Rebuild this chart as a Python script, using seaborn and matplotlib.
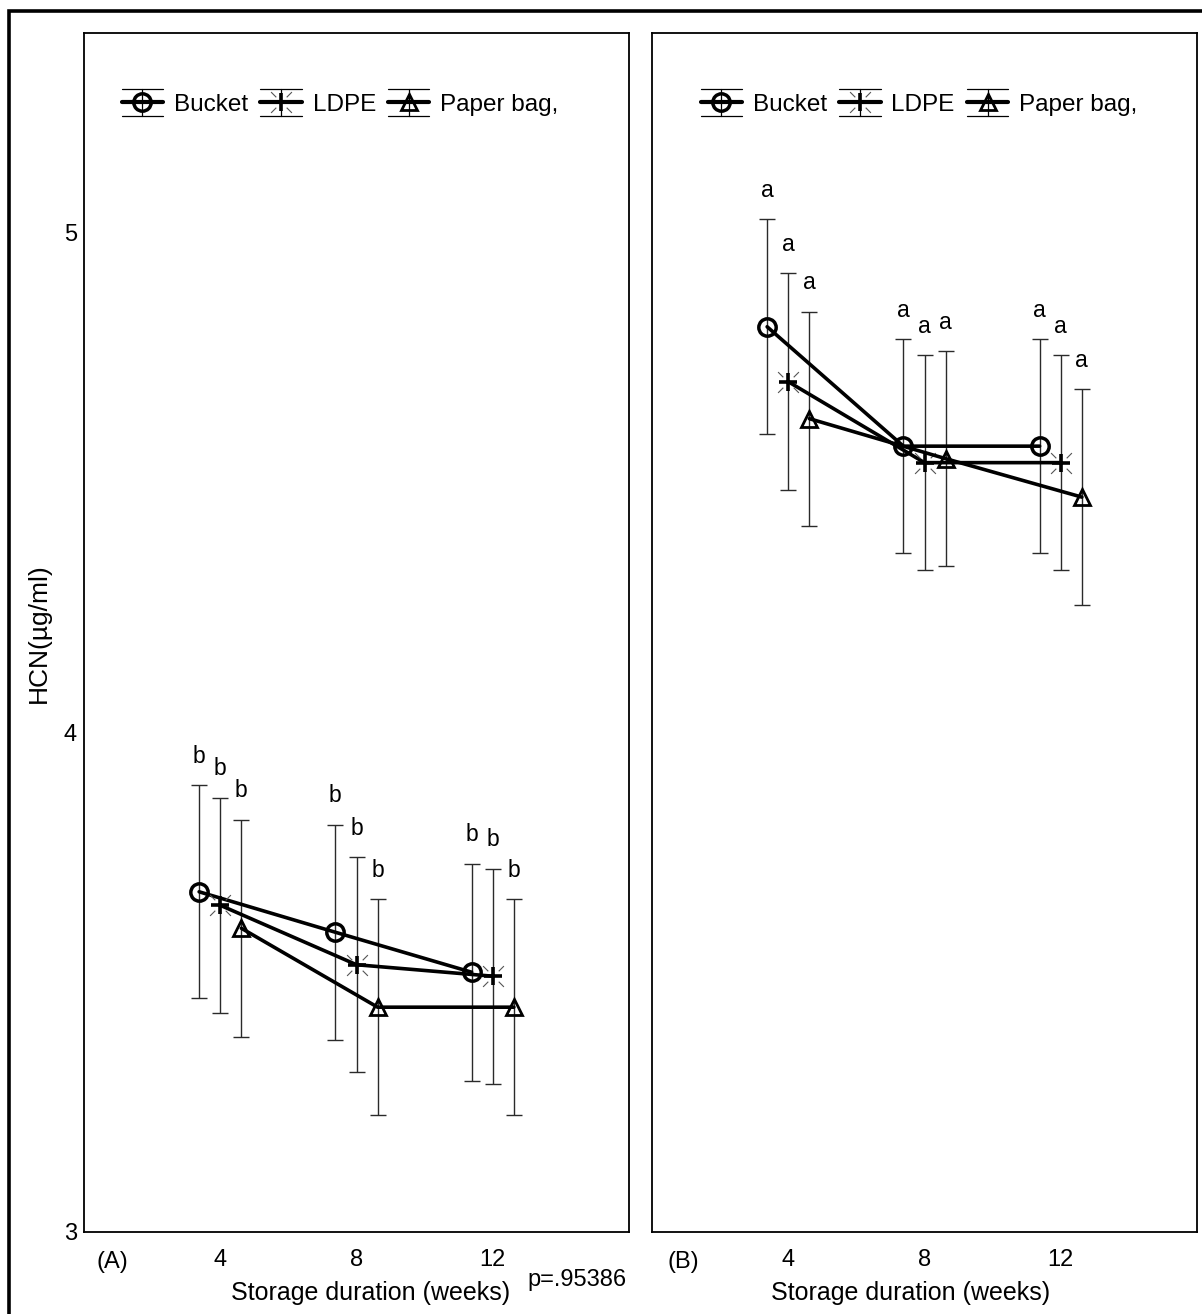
import numpy as np
import pandas as pd
import matplotlib
matplotlib.use("Agg")
import matplotlib.pyplot as plt
import matplotlib.patches as mpatches
import seaborn as sns
from matplotlib.path import Path
from matplotlib.lines import Line2D
from matplotlib.legend_handler import HandlerBase

# ---------------- data ----------------
weeks = [4, 8, 12]
x_ticks = [4, 8, 12]
y_ticks = [3, 4, 5]
series_names = ["Bucket", "LDPE", "Paper bag,"]

# Panel (A)
bucket_A = [3.681, 3.600, 3.520]
ldpe_A = [3.654, 3.535, 3.512]
paper_A = [3.608, 3.450, 3.450]
bucket_A_err = [0.213, 0.215, 0.217]
ldpe_A_err = [0.215, 0.215, 0.215]
paper_A_err = [0.217, 0.216, 0.216]
letters_A = ["b", "b", "b"]

# Panel (B)
bucket_B = [4.812, 4.573, 4.573]
ldpe_B = [4.702, 4.540, 4.540]
paper_B = [4.628, 4.548, 4.471]
bucket_B_err = [0.215, 0.214, 0.214]
ldpe_B_err = [0.217, 0.215, 0.215]
paper_B_err = [0.214, 0.215, 0.216]
letters_B = ["a", "a", "a"]

panel_tags = ["(A)", "(B)"]
p_text = "p=.95386"
xlabel = "Storage duration (weeks)"
ylabel = "HCN(\u00b5g/ml)"

# ---------------- style ----------------
sns.set_style("white")
plt.rcParams["font.family"] = ["Liberation Sans", "DejaVu Sans"]
for k in ["text.color", "axes.labelcolor", "xtick.color", "ytick.color",
          "axes.edgecolor"]:
    plt.rcParams[k] = "black"

W, H = 1202, 1314
fig = plt.figure(figsize=(W / 100, H / 100), dpi=100)

def fx(px):
    return px / W

def fy(py):
    return 1 - py / H

ax_pos = [
    [fx(84), fy(1232), fx(629) - fx(84), fy(33) - fy(1232)],
    [fx(652), fy(1232), fx(1197) - fx(652), fy(33) - fy(1232)],
]

# custom LDPE spokes marker
verts, codes = [], []
for sx, sy in [(1, 1), (1, -1), (-1, 1), (-1, -1)]:
    verts += [(sx * 0.5, sy * 0.5), (sx * 1.0, sy * 1.0)]
    codes += [Path.MOVETO, Path.LINETO]
spokes = Path(verts, codes)

markers = ["o", "+", "^"]
msizes = [12.5, 13, 12]
mews = [2.5, 2.6, 2.0]
offsets = [-0.62, 0.0, 0.62]
LW = 2.6
TXT = 17.0

panels = [
    ([bucket_A, ldpe_A, paper_A], [bucket_A_err, ldpe_A_err, paper_A_err], letters_A),
    ([bucket_B, ldpe_B, paper_B], [bucket_B_err, ldpe_B_err, paper_B_err], letters_B),
]


class ErrHandler(HandlerBase):
    def __init__(self, marker, ms, mew, spoke=False):
        super().__init__()
        self.marker = marker
        self.ms = ms
        self.mew = mew
        self.spoke = spoke

    def create_artists(self, legend, orig_handle, xdescent, ydescent,
                       width, height, fontsize, trans):
        x0, x1 = -xdescent, -xdescent + width
        cy = -ydescent + height / 2
        cx = (x0 + x1) / 2
        d = height * 0.78
        arts = []
        for yy in (cy - d, cy + d):
            arts.append(Line2D([x0, x1], [yy, yy], color="black", lw=0.9, transform=trans))
        arts.append(Line2D([cx, cx], [cy - d, cy + d], color="black", lw=0.9, transform=trans))
        arts.append(Line2D([x0, x1], [cy, cy], color="black", lw=LW + 0.4, transform=trans))
        arts.append(Line2D([cx], [cy], marker=self.marker, ms=self.ms, mfc="none",
                           mec="black", mew=self.mew, ls="none", transform=trans))
        if self.spoke:
            arts.append(Line2D([cx], [cy], marker=spokes, ms=self.ms + 2, mfc="none",
                               mec="#555555", mew=0.8, ls="none", transform=trans))
        return arts


for pi, (means, errs, letters) in enumerate(panels):
    ax = fig.add_axes(ax_pos[pi])
    handles = []
    for si in range(3):
        xs = [w + offsets[si] for w in weeks]
        ax.errorbar(xs, means[si], yerr=errs[si], fmt="none", ecolor="#2a2a2a",
                    elinewidth=1.0, capsize=5.5, capthick=1.0, zorder=2)
        df = pd.DataFrame({"x": xs, "y": means[si]})
        sns.lineplot(data=df, x="x", y="y", ax=ax, color="black", lw=LW,
                     marker=markers[si], markersize=msizes[si],
                     markerfacecolor="none", markeredgecolor="black",
                     markeredgewidth=mews[si], legend=False, zorder=3, sort=False)
        handles.append(ax.lines[-1])
        if markers[si] == "+":
            ax.plot(xs, means[si], ls="none", marker=spokes, ms=msizes[si] + 2,
                    mfc="none", mec="#555555", mew=0.8, zorder=3)
        for xi, m, e in zip(xs, means[si], errs[si]):
            ax.text(xi, m + e + 0.045, letters[si], ha="center", va="baseline",
                    fontsize=16.5)

    ax.set_xlim(0, 16)
    ax.set_ylim(3, 5.4)
    ax.set_xticks(x_ticks)
    ax.set_yticks(y_ticks)
    ax.tick_params(direction="in", length=4, width=1, labelsize=TXT,
                   colors="black")
    ax.tick_params(axis="x", pad=12)
    ax.tick_params(axis="y", pad=5)
    if pi == 1:
        ax.tick_params(labelleft=False)
    for sp in ax.spines.values():
        sp.set_visible(True)
        sp.set_color("black")
        sp.set_linewidth(1.3)
    ax.set_ylabel("")
    ax.set_xlabel(xlabel, fontsize=18)
    ax.xaxis.set_label_coords(0.525 if pi == 0 else 0.475, -0.051)
    ax.xaxis.label.set_va("center")

    hmap = {handles[i]: ErrHandler(markers[i], msizes[i], mews[i],
                                   spoke=(markers[i] == "+"))
            for i in range(3)}
    ax.legend(handles, series_names, handler_map=hmap, ncol=3, frameon=False,
              loc="center", bbox_to_anchor=(0.47 if pi == 0 else 0.49, 0.94),
              fontsize=17.5, handlelength=1.7, handletextpad=0.45,
              columnspacing=0.5)

fig.text(fx(39), fy(633), ylabel, rotation=90, ha="center", va="center", fontsize=19)
fig.text(fx(112), fy(1262), panel_tags[0], ha="center", va="center", fontsize=TXT)
fig.text(fx(683), fy(1262), panel_tags[1], ha="center", va="center", fontsize=TXT)
fig.text(fx(577), fy(1280), p_text, ha="center", va="center", fontsize=17)

frame = mpatches.Rectangle((fx(8.5), -0.05), 1.2, fy(10.5) + 0.05,
                           transform=fig.transFigure, fill=False, lw=2.6,
                           ec="black", clip_on=False)
fig.add_artist(frame)

fig.savefig("out.png", dpi=100)
